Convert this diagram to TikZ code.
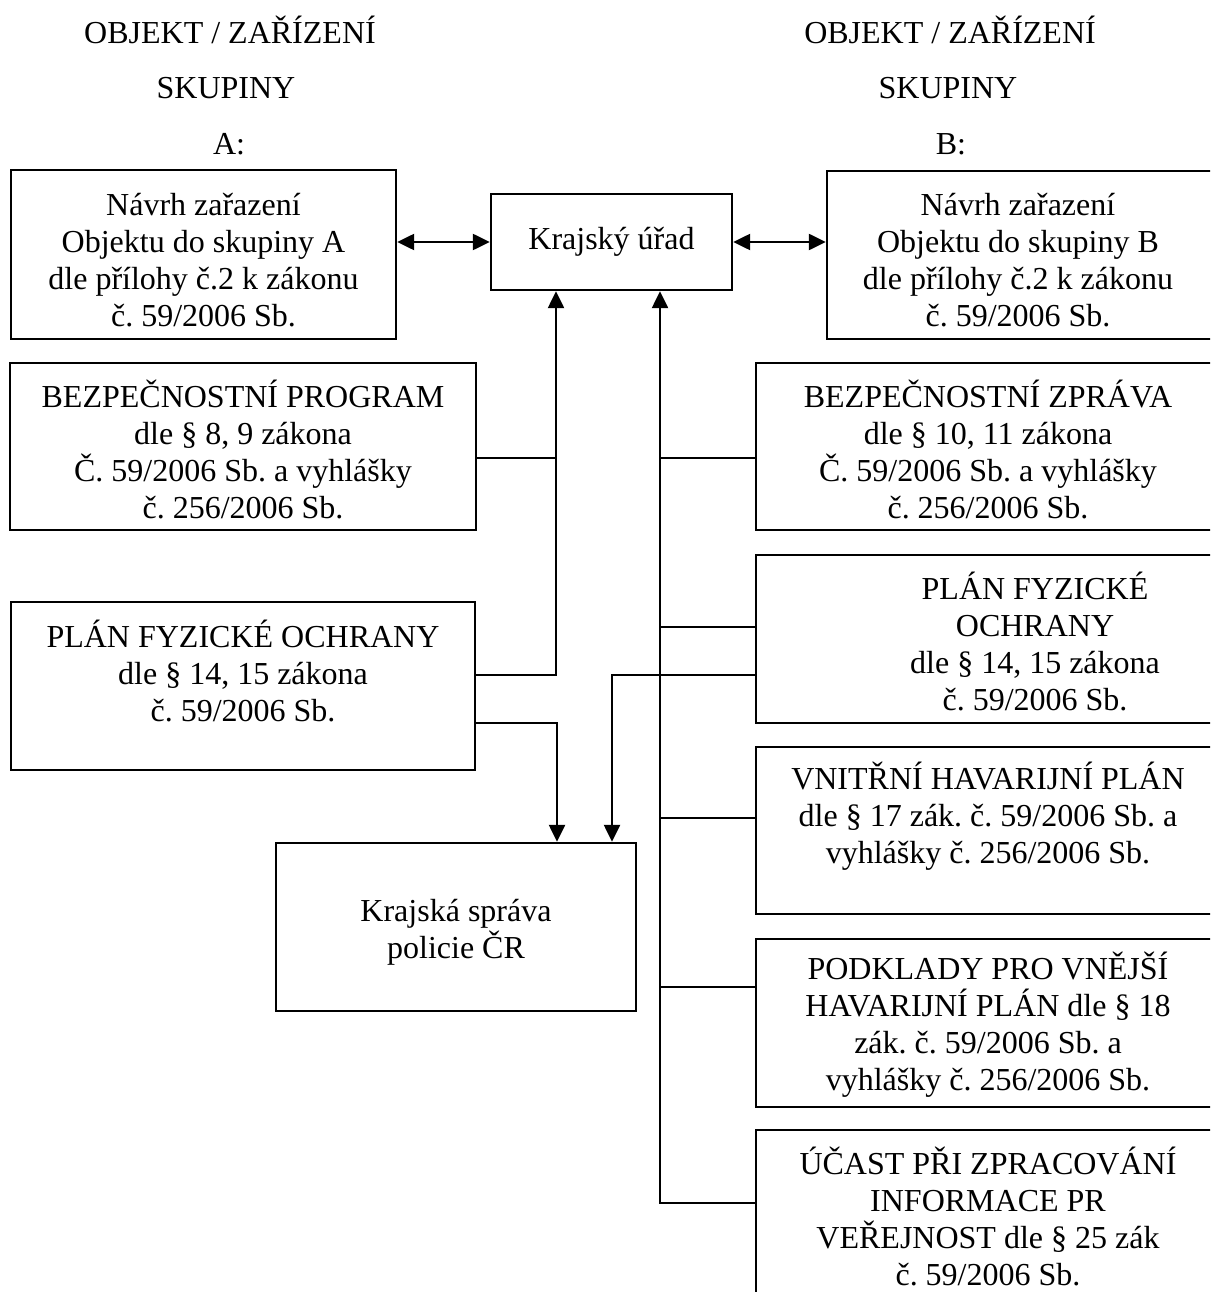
\documentclass[tikz,border=0pt]{standalone}
\usepackage{fontspec}
\setmainfont{Liberation Serif}
\usetikzlibrary{arrows.meta}
\tikzset{
  box/.style={draw, line width=2.4pt, rectangle, inner sep=0pt},
  txt/.style={inner sep=0pt, align=center, font=\fontsize{32}{37}\selectfont\frenchspacing},
  ttl/.style={inner sep=0pt, anchor=base, font=\fontsize{32}{37}\selectfont\frenchspacing},
  conn/.style={line width=2.4pt},
  arr/.style={conn, -{Triangle[length=17pt,width=16pt]}},
  dbl/.style={conn, {Triangle[length=17pt,width=16pt]}-{Triangle[length=17pt,width=16pt]}}
}
\begin{document}
\frenchspacing
\begin{tikzpicture}[x=1pt,y=-1pt]
\useasboundingbox (0,0) rectangle (1210,1292);
\clip (0,0) rectangle (1210,1292);
\fill[white] (0,0) rectangle (1210,1292);

% titles
\node[ttl] (tA1) at (230,44) {OBJEKT / ZAŘÍZENÍ};
\node[ttl] (tA2) at (226,99) {SKUPINY};
\node[ttl] (tA3) at (229,155) {A:};
\node[ttl] (tB1) at (950,44) {OBJEKT / ZAŘÍZENÍ};
\node[ttl] (tB2) at (948,99) {SKUPINY};
\node[ttl] (tB3) at (951,155) {B:};

% boxes
\node[box, minimum width=385pt, minimum height=169pt] (a1) at (203.5,254.5) {};
\node[box, minimum width=241pt, minimum height=96pt, txt] (ku) at (611.5,242) {Krajský úřad};
\node[box, minimum width=395pt, minimum height=168pt] (b1) at (1024.5,255) {};
\node[box, minimum width=466pt, minimum height=167pt] (a2) at (243,446.5) {};
\node[box, minimum width=466pt, minimum height=167pt] (b2) at (989,446.5) {};
\node[box, minimum width=464pt, minimum height=168pt] (a3) at (243,686) {};
\node[box, minimum width=466pt, minimum height=168pt] (b3) at (989,639) {};
\node[box, minimum width=466pt, minimum height=167pt] (b4) at (989,830.5) {};
\node[box, minimum width=466pt, minimum height=168pt] (b5) at (989,1023) {};
\node[box, minimum width=466pt, minimum height=190pt] (b6) at (989,1225) {};
\node[box, minimum width=360pt, minimum height=168pt] (pol) at (456,927) {};

% box texts
\node[txt] (polt) at (456,932) {Krajská správa\\policie ČR};
\node[txt] (a1t) at (203.5,260) {Návrh zařazení\\Objektu do skupiny A\\dle přílohy č.2 k zákonu\\č. 59/2006 Sb.};
\node[txt] (b1t) at (1018,260) {Návrh zařazení\\Objektu do skupiny B\\dle přílohy č.2 k zákonu\\č. 59/2006 Sb.};
\node[txt] (a2t) at (243,449) {BEZPEČNOSTNÍ PROGRAM\\dle § 8, 9 zákona\\Č. 59/2006 Sb. a vyhlášky\\č. 256/2006 Sb.};
\node[txt] (b2t) at (988,449) {BEZPEČNOSTNÍ ZPRÁVA\\dle § 10, 11 zákona\\Č. 59/2006 Sb. a vyhlášky\\č. 256/2006 Sb.};
\node[txt] (a3t) at (243,671) {PLÁN FYZICKÉ OCHRANY\\dle § 14, 15 zákona\\č. 59/2006 Sb.};
\node[txt] (b3t) at (1035,641) {PLÁN FYZICKÉ\\OCHRANY\\dle § 14, 15 zákona\\č. 59/2006 Sb.};
\node[txt] (b4t) at (988,816) {VNITŘNÍ HAVARIJNÍ PLÁN\\dle § 17 zák. č. 59/2006 Sb. a\\vyhlášky č. 256/2006 Sb.};
\node[txt] (b5t) at (988,1025) {PODKLADY PRO VNĚJŠÍ\\HAVARIJNÍ PLÁN dle § 18\\zák. č. 59/2006 Sb. a\\vyhlášky č. 256/2006 Sb.};
\node[txt] (b6t) at (988,1216) {ÚČAST PŘI ZPRACOVÁNÍ\\INFORMACE PR\\VEŘEJNOST dle § 25 zák\\č. 59/2006 Sb.};

% connection points
\coordinate (kuL) at ([xshift=-55.5pt]ku.south);
\coordinate (kuR) at ([xshift=48.5pt]ku.south);
\coordinate (polL) at ([xshift=101pt]pol.north);
\coordinate (polR) at ([xshift=156pt]pol.north);
\coordinate (a2p) at ([yshift=-11.5pt]a2.east);
\coordinate (a3p) at ([yshift=11pt]a3.east);
\coordinate (a3q) at ([yshift=-37pt]a3.east);
\coordinate (b2p) at ([yshift=-11.5pt]b2.west);
\coordinate (b3p) at ([yshift=12pt]b3.west);
\coordinate (b3q) at ([yshift=-36pt]b3.west);
\coordinate (b4p) at ([yshift=12.5pt]b4.west);
\coordinate (b5p) at ([yshift=36pt]b5.west);
\coordinate (b6p) at ([yshift=22pt]b6.west);

% connectors
\draw[dbl] (a1.east |- ku.west) -- (ku.west);
\draw[dbl] (ku.east) -- (b1.west |- ku.east);
\draw[conn] (a2p) -- (a2p -| kuL);
\draw[arr] (a3p) -| (kuL);
\draw[arr] (a3q) -| (polL);
\draw[arr] (b6p) -| (kuR);
\draw[conn] (b2p) -- (b2p -| kuR);
\draw[conn] (b3p) -- (b3p -| kuR);
\draw[conn] (b4p) -- (b4p -| kuR);
\draw[conn] (b5p) -- (b5p -| kuR);
\draw[arr] (b3q) -| (polR);
\end{tikzpicture}
\end{document}
